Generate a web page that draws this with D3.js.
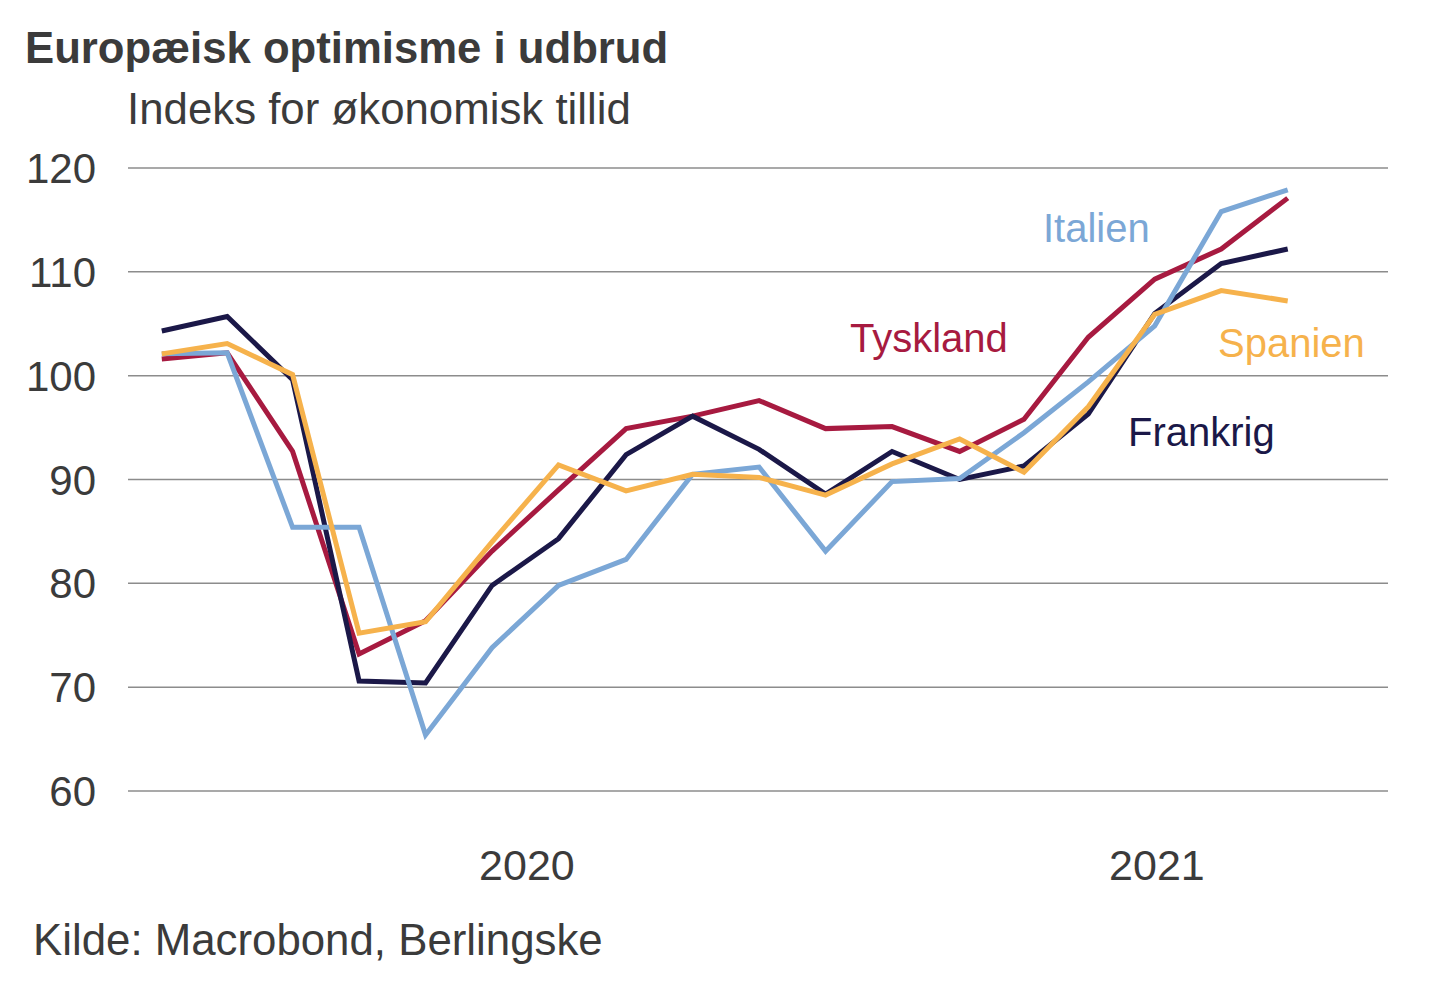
<!DOCTYPE html>
<html>
<head>
<meta charset="utf-8">
<script src="https://cdn.jsdelivr.net/npm/d3@7"></script>
<style>
  body { margin: 0; background: #fff; }
  svg { font-family: "Liberation Sans", Arial, sans-serif; }
</style>
</head>
<body>
<div id="chart"></div>
<script>
// Monthly data, Jan 2020 - Jun 2021
const months = ["2020-01","2020-02","2020-03","2020-04","2020-05","2020-06","2020-07","2020-08","2020-09",
  "2020-10","2020-11","2020-12","2021-01","2021-02","2021-03","2021-04","2021-05","2021-06"];

const frankrig = [104.3,105.7,99.6,70.6,70.4,79.8,84.3,92.4,96.1,92.9,88.6,92.7,90.0,91.3,96.3,106.0,110.8,112.2];
const tyskland = [101.6,102.2,92.7,73.2,76.4,83.1,89.0,94.9,96.1,97.6,94.9,95.1,92.7,95.8,103.7,109.3,112.2,117.1];
const italien  = [102.1,102.2,85.4,85.4,65.4,73.8,79.8,82.3,90.5,91.2,83.1,89.8,90.1,94.5,99.4,104.8,115.8,117.9];
const spanien  = [102.1,103.1,100.1,75.2,76.3,84.0,91.4,88.9,90.5,90.2,88.5,91.5,93.9,90.7,97.0,105.9,108.2,107.2];

const yTicks = [60, 70, 80, 90, 100, 110, 120];
const years = [2020, 2021];

const width = 1440, height = 997;
const margin = {top: 168, bottom: 206, left: 128, right: 52};
const textColor = "#3b3b3b";

const svg = d3.select("#chart")
  .append("svg")
  .attr("width", width)
  .attr("height", height);

const parse = d3.timeParse("%Y-%m");
const dates = months.map(parse);
const domainStart = new Date(2020, 0, 1), domainEnd = new Date(2021, 7, 1);

const x = d3.scaleTime()
  .domain([domainStart, domainEnd])
  .range([margin.left, width - margin.right]);

const y = d3.scaleLinear()
  .domain([60, 120])
  .range([height - margin.bottom, margin.top]);

// middle of each month
const xMid = d => (x(d) + x(d3.timeMonth.offset(d, 1))) / 2;

// title + subtitle
svg.append("text")
  .attr("x", 25).attr("y", 63)
  .text("Europæisk optimisme i udbrud")
  .style("font-size", "43.7px")
  .style("font-weight", "bold")
  .attr("fill", textColor);

svg.append("text")
  .attr("x", 127).attr("y", 124)
  .text("Indeks for økonomisk tillid")
  .style("font-size", "43.8px")
  .attr("fill", textColor);

// gridlines + y labels
svg.append("g")
  .selectAll("line")
  .data(yTicks)
  .join("line")
  .attr("x1", margin.left)
  .attr("x2", width - margin.right)
  .attr("y1", d => y(d))
  .attr("y2", d => y(d))
  .attr("stroke", "#8c8c8c")
  .attr("stroke-width", 1.5);

svg.append("g")
  .selectAll("text")
  .data(yTicks)
  .join("text")
  .attr("x", 96)
  .attr("y", d => y(d) + 15)
  .attr("text-anchor", "end")
  .text(d => d)
  .style("font-size", "42px")
  .attr("fill", textColor);

// year labels centred on the visible part of each year
svg.append("g")
  .selectAll("text")
  .data(years)
  .join("text")
  .attr("x", d => {
    const s = d3.max([new Date(d, 0, 1), domainStart]);
    const e = d3.min([new Date(d + 1, 0, 1), domainEnd]);
    return (x(s) + x(e)) / 2;
  })
  .attr("y", 880)
  .attr("text-anchor", "middle")
  .text(d => d)
  .style("font-size", "43px")
  .attr("fill", textColor);

// lines
const series = [
  {name: "Tyskland", values: tyskland, color: "#a71a40", lx: 850, ly: 352},
  {name: "Frankrig", values: frankrig, color: "#1b1848", lx: 1128, ly: 446},
  {name: "Italien",  values: italien,  color: "#7ba7d6", lx: 1043, ly: 242},
  {name: "Spanien",  values: spanien,  color: "#f6b24c", lx: 1218, ly: 357}
];

const line = d3.line()
  .x((v, i) => xMid(dates[i]))
  .y(v => y(v));

series.forEach(s => {
  svg.append("path")
    .datum(s.values)
    .attr("d", line)
    .attr("fill", "none")
    .attr("stroke", s.color)
    .attr("stroke-width", 5)
    .attr("stroke-linejoin", "miter");

  svg.append("text")
    .attr("x", s.lx)
    .attr("y", s.ly)
    .text(s.name)
    .style("font-size", "40px")
    .attr("fill", s.color);
});

// source
svg.append("text")
  .attr("x", 33).attr("y", 955)
  .text("Kilde: Macrobond, Berlingske")
  .style("font-size", "43.8px")
  .attr("fill", textColor);
</script>
</body>
</html>
